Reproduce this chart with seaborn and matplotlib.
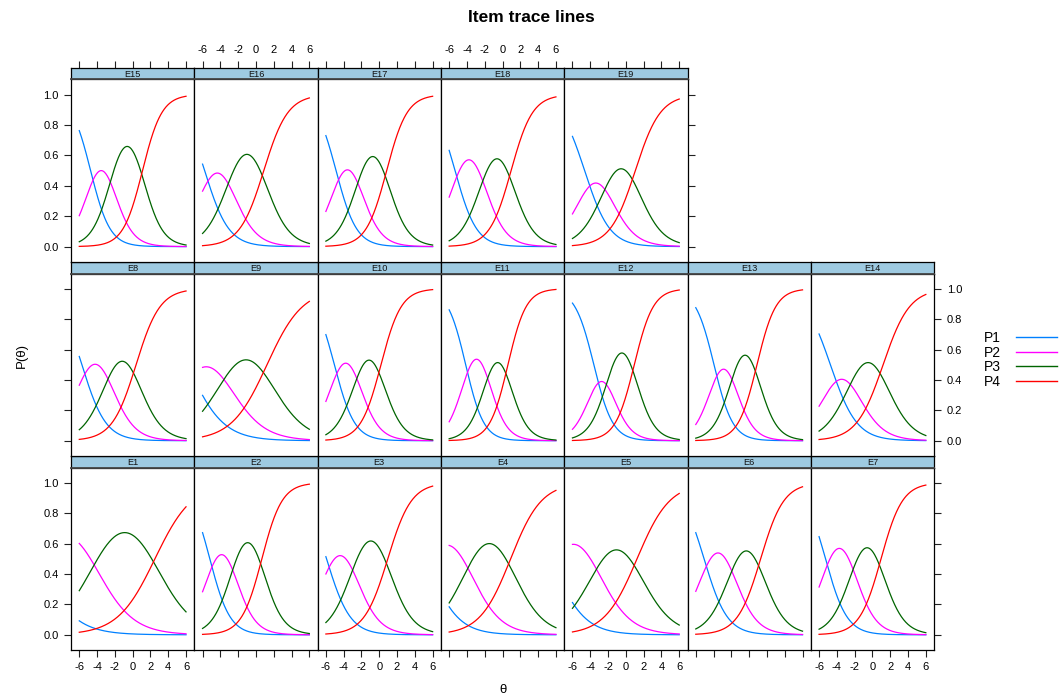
import numpy as np
import pandas as pd
import matplotlib
matplotlib.use("Agg")
import matplotlib.pyplot as plt
import seaborn as sns
from matplotlib.lines import Line2D

# Graded-response item parameters (slope and three ordered thresholds)
items = [f"E{k}" for k in range(1, 20)]
slope = [0.479, 0.881, 0.754, 0.578, 0.545, 0.769, 0.831, 0.744, 0.503, 0.880,
         0.982, 0.940, 0.950, 0.673, 0.919, 0.741, 0.870, 0.830, 0.710]
thresh1 = [-10.78, -5.186, -5.926, -8.576, -8.407, -5.068, -5.277, -5.708, -7.70, -5.048,
           -4.144, -3.60, -3.95, -4.727, -4.727, -5.77, -4.856, -5.343, -4.635]
thresh2 = [-4.30, -2.524, -2.862, -3.889, -3.374, -1.937, -2.171, -2.734, -3.475, -2.491,
           -1.706, -1.85, -1.80, -2.18, -2.336, -2.92, -2.30, -2.215, -2.125]
thresh3 = [2.506, 0.666, 0.960, 0.909, 1.257, 1.293, 0.965, 0.384, 1.241, 0.192,
           0.608, 0.95, 0.88, 1.196, 1.107, 0.88, 0.833, 0.961, 1.061]

categories = ["P1", "P2", "P3", "P4"]
cat_colors = ["#0080ff", "#ff00ff", "#006400", "#ff0000"]
x_ticks = [-6, -4, -2, 0, 2, 4, 6]
y_ticks = [0.0, 0.2, 0.4, 0.6, 0.8, 1.0]

theta = np.linspace(-6, 6, 241)


def category_probs(a, bs):
    """Category probabilities of a graded response item over theta."""
    cum = [np.ones_like(theta)]
    cum += [1.0 / (1.0 + np.exp(-a * (theta - b))) for b in bs]
    cum += [np.zeros_like(theta)]
    return [cum[k] - cum[k + 1] for k in range(len(bs) + 1)]


frames = []
for name, a, b1, b2, b3 in zip(items, slope, thresh1, thresh2, thresh3):
    for cat, p in zip(categories, category_probs(a, [b1, b2, b3])):
        frames.append(pd.DataFrame({"item": name, "theta": theta,
                                    "category": cat, "prob": p}))
traces = pd.concat(frames, ignore_index=True)

plt.rcParams["font.family"] = ["Liberation Sans", "DejaVu Sans"]

W, H = 1062, 700
fig = plt.figure(figsize=(W / 100, H / 100), dpi=100)


def rect(left, top, width, height):
    return [left / W, 1 - (top + height) / H, width / W, height / H]


n_cols = 7
col_w = 123.3
grid_left = 71.0
grid_top = 67.7
row_h = 194.1
strip_h = 11.7
xlim = (-6.93, 6.93)
ylim = (-0.1, 1.1)
tick_kw = dict(direction="out", length=5, width=0.8, pad=4, labelsize=8,
               color="#222222", labelcolor="black")

row_last = {0: 6, 1: 6, 2: (len(items) - 1) % n_cols}

for i, name in enumerate(items):
    row_b = i // n_cols
    col = i % n_cols
    r = 2 - row_b
    left = grid_left + col * col_w
    top = grid_top + r * row_h

    ax = fig.add_axes(rect(left, top + strip_h, col_w, row_h - strip_h))
    sub = traces[traces["item"] == name]
    sns.lineplot(data=sub, x="theta", y="prob", hue="category",
                 hue_order=categories, palette=cat_colors, linewidth=0.9,
                 legend=False, errorbar=None, ax=ax)
    ax.set_xlim(*xlim)
    ax.set_ylim(*ylim)
    ax.set_xticks(x_ticks)
    ax.set_xticklabels([str(v) for v in x_ticks])
    ax.set_yticks(y_ticks)
    ax.set_yticklabels([f"{v:.1f}" for v in y_ticks])
    ax.set_xlabel("")
    ax.set_ylabel("")
    for s in ax.spines.values():
        s.set_linewidth(0.9)
        s.set_color("black")

    is_bottom = r == 2
    ax.tick_params(axis="x", bottom=is_bottom, top=False,
                   labelbottom=is_bottom and col % 2 == 0, labeltop=False,
                   **tick_kw)
    is_left = col == 0
    is_right = col == row_last[row_b]
    ax.tick_params(axis="y", left=is_left, right=is_right,
                   labelleft=is_left and r != 1,
                   labelright=is_right and r == 1, **tick_kw)

    sax = fig.add_axes(rect(left, top, col_w, strip_h))
    sax.set_facecolor("#9ECAE1")
    sax.set_xlim(*xlim)
    sax.set_yticks([])
    for s in sax.spines.values():
        s.set_linewidth(0.9)
        s.set_color("black")
    sax.spines["bottom"].set_color("#444444")
    sax.spines["bottom"].set_linewidth(1.3)
    sax.text(0.5, 0.45, name, transform=sax.transAxes, ha="center",
             va="center", fontsize=6.6, color="#111111")
    if r == 0:
        sax.set_xticks(x_ticks)
        sax.set_xticklabels([str(v) for v in x_ticks])
        sax.tick_params(axis="x", bottom=False, top=True, labelbottom=False,
                        labeltop=col % 2 == 1, **tick_kw)
    else:
        sax.set_xticks([])

fig.text(531 / W, 1 - 17 / H, "Item trace lines", ha="center", va="center",
         fontsize=12.5, fontweight="bold")
fig.text(22 / W, 1 - 356 / H, "P(θ)", ha="center", va="center",
         rotation=90, fontsize=9.5)
fig.text(502.5 / W, 1 - 690 / H, "θ", ha="center", va="center", fontsize=9.5)

handles = [Line2D([], [], color=c, lw=1.0) for c in cat_colors]
fig.legend(handles, categories, loc="center left",
           bbox_to_anchor=(984 / W, 1 - 360 / H), frameon=False,
           markerfirst=False, fontsize=10, handlelength=2.9,
           handletextpad=1.1, labelspacing=0.05, borderpad=0,
           borderaxespad=0)

fig.savefig("out.png", dpi=100)
